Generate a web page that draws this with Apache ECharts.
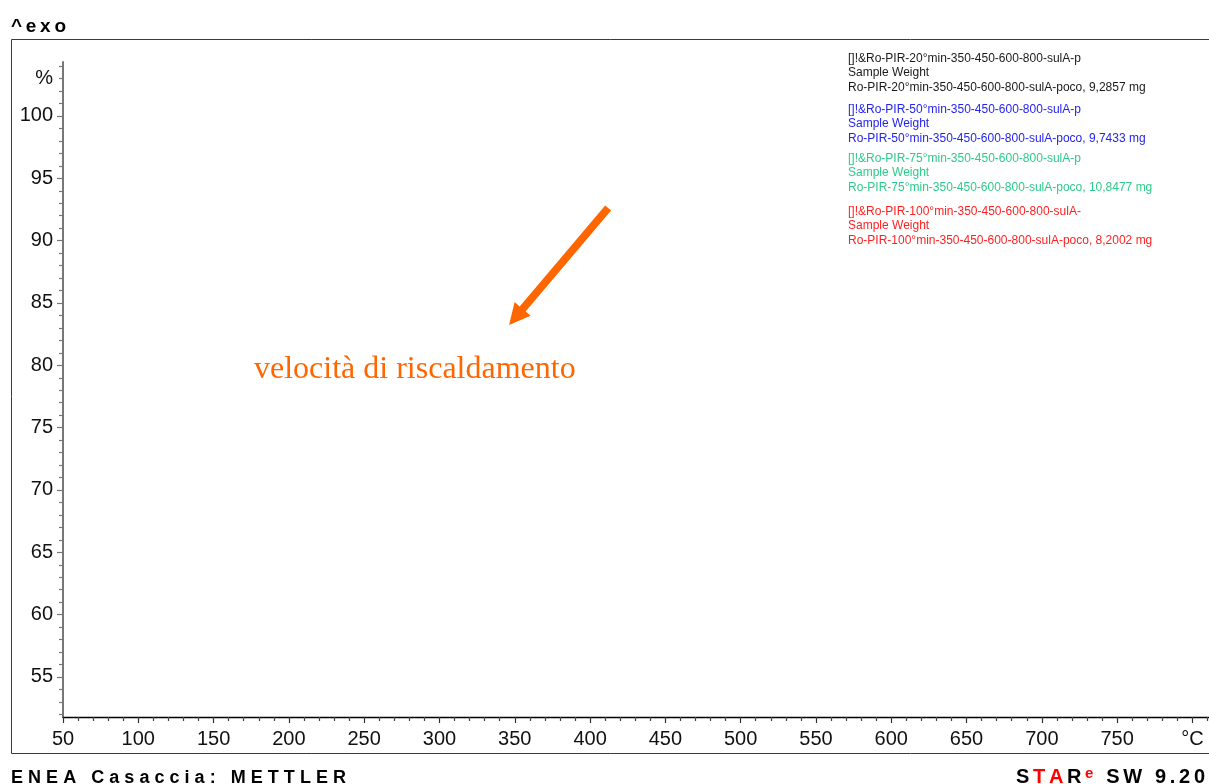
<!DOCTYPE html>
<html>
<head>
<meta charset="utf-8">
<title>TGA - velocità di riscaldamento</title>
<script src="https://cdn.jsdelivr.net/npm/echarts@6/dist/echarts.min.js"></script>
<style>
  html, body { margin: 0; padding: 0; background: #fff; }
  #chart { width: 1209px; height: 784px; }
</style>
</head>
<body>
<div id="chart"></div>
<script>
  // asse temperatura (°C)
  var xMajor = [50, 100, 150, 200, 250, 300, 350, 400, 450, 500, 550, 600, 650, 700, 750, 800];
  var xMinor = [];
  for (var t = 60; t <= 810; t += 10) { if (t % 50 !== 0) xMinor.push(t); }
  // asse peso (%)
  var yMajor = [55, 60, 65, 70, 75, 80, 85, 90, 95, 100];
  var yLabels = [55, 60, 65, 70, 75, 80, 85, 90, 95, 100, 103];
  var yMinor = [];
  for (var p = 52; p <= 104; p++) { if (p % 5 !== 0) yMinor.push(p); }

  // curve (nel riferimento non compaiono tracciati)
  var sampleRates = ['20°min', '50°min', '75°min', '100°min'];
  var sampleTitles = [
    '[]!&Ro-PIR-20°min-350-450-600-800-sulA-p',
    '[]!&Ro-PIR-50°min-350-450-600-800-sulA-p',
    '[]!&Ro-PIR-75°min-350-450-600-800-sulA-p',
    '[]!&Ro-PIR-100°min-350-450-600-800-sulA-'
  ];
  var sampleFiles = [
    'Ro-PIR-20°min-350-450-600-800-sulA-poco, 9,2857 mg',
    'Ro-PIR-50°min-350-450-600-800-sulA-poco, 9,7433 mg',
    'Ro-PIR-75°min-350-450-600-800-sulA-poco, 10,8477 mg',
    'Ro-PIR-100°min-350-450-600-800-sulA-poco, 8,2002 mg'
  ];
  var sampleColors = ['#1a1a1a', '#2424f0', '#2ecb8a', '#ff1f1f'];
  var sampleData = [[], [], [], []];
  var legendTop = [51, 102, 151, 204];

  // freccia annotazione (coordinate dati: coda -> punta)
  var arrowFrom = [412, 92.62];
  var arrowTo = [346.2, 83.24];

  var chart = echarts.init(document.getElementById('chart'));

  var labelFont = '"Liberation Sans", Arial, sans-serif';
  var measureCtx = document.createElement('canvas').getContext('2d');

  // scritte spaziate (stile STARe): lettere distribuite tra x0 e x1
  function fitText(runs, x0, x1, y) {
    var chars = [], sum = 0;
    runs.forEach(function (r) {
      var font = 'bold ' + r.size + 'px ' + labelFont;
      measureCtx.font = font;
      for (var i = 0; i < r.t.length; i++) {
        var w = measureCtx.measureText(r.t[i]).width;
        chars.push({ ch: r.t[i], font: font, w: w, color: r.color, dy: r.dy || 0 });
        sum += w;
      }
    });
    var gap = (x1 - x0 - sum) / (chars.length - 1);
    var cx = x0;
    return chars.map(function (c) {
      var el = {
        type: 'text', x: cx, y: y + c.dy, silent: true,
        style: { text: c.ch, font: c.font, fill: c.color, align: 'left', verticalAlign: 'bottom' }
      };
      cx += c.w + gap;
      return el;
    });
  }

  var graphics = [];
  graphics.push({
    type: 'rect', silent: true, z: -1,
    shape: { x: 11.5, y: 39.5, width: 1300, height: 714 },
    style: { fill: 'none', stroke: '#3a3a3a', lineWidth: 1 }
  });
  graphics = graphics.concat(
    fitText([{ t: '^exo', size: 19, color: '#000' }], 11, 66, 36),
    fitText([{ t: 'ENEA Casaccia: METTLER', size: 18, color: '#000' }], 11, 346, 787),
    fitText([
      { t: 'S', size: 20, color: '#000' },
      { t: 'TA', size: 20, color: '#ff0000' },
      { t: 'R', size: 20, color: '#000' },
      { t: 'e', size: 15, color: '#ff0000', dy: -6 },
      { t: ' SW 9.20', size: 20, color: '#000' }
    ], 1016, 1205, 787)
  );
  sampleTitles.forEach(function (name, i) {
    graphics.push({
      type: 'text', x: 848, y: legendTop[i], silent: true,
      style: {
        text: name + '\nSample Weight\n' + sampleFiles[i],
        font: '12px ' + labelFont, fill: sampleColors[i], lineHeight: 14.5,
        align: 'left', verticalAlign: 'top'
      }
    });
  });
  graphics.push({
    type: 'text', x: 254, y: 370, silent: true,
    style: {
      text: 'velocità di riscaldamento', font: '32px "Liberation Serif", "Times New Roman", serif',
      fill: '#ff6600', align: 'left', verticalAlign: 'middle'
    }
  });

  var series = sampleTitles.map(function (name, i) {
    return {
      name: sampleRates[i], type: 'line', data: sampleData[i], showSymbol: false,
      lineStyle: { color: sampleColors[i], width: 1.5 }
    };
  });

  chart.setOption({
    animation: false,
    backgroundColor: '#fff',
    grid: { left: 63, right: 0, top: 62, bottom: 67, containLabel: false },
    xAxis: [{
      type: 'value', min: 50, max: 811, position: 'bottom',
      axisLine: { show: true, onZero: false, lineStyle: { color: '#000', width: 1.3 } },
      axisTick: { show: true, customValues: xMajor, length: 6, lineStyle: { color: '#333', width: 1.2 } },
      axisLabel: {
        customValues: xMajor, margin: 12, color: '#111', fontSize: 20, fontFamily: labelFont,
        formatter: function (v) { return v === 800 ? '°C' : String(v); }
      },
      splitLine: { show: false }
    }, {
      type: 'value', min: 50, max: 811, position: 'bottom',
      axisLine: { show: false, onZero: false },
      axisTick: { show: true, customValues: xMinor, length: 4, lineStyle: { color: '#444', width: 1.2 } },
      axisLabel: { show: false },
      splitLine: { show: false }
    }],
    yAxis: [{
      type: 'value', min: 51.79, max: 104.33, position: 'left',
      axisLine: { show: true, onZero: false, lineStyle: { color: '#777', width: 2 } },
      axisTick: { show: true, customValues: yMajor, length: 6, lineStyle: { color: '#777', width: 1.2 } },
      axisLabel: {
        customValues: yLabels, margin: 10, color: '#111', fontSize: 20, fontFamily: labelFont,
        formatter: function (v) { return v === 103 ? '%' : String(v); }
      },
      splitLine: { show: false }
    }, {
      type: 'value', min: 51.79, max: 104.33, position: 'left',
      axisLine: { show: false, onZero: false },
      axisTick: { show: true, customValues: yMinor, length: 4, lineStyle: { color: '#777', width: 1.2 } },
      axisLabel: { show: false },
      splitLine: { show: false }
    }],
    series: series,
    graphic: graphics
  });

  // freccia: posizionata dalle coordinate dati
  var a = chart.convertToPixel({ xAxisIndex: 0, yAxisIndex: 0 }, arrowFrom);
  var b = chart.convertToPixel({ xAxisIndex: 0, yAxisIndex: 0 }, arrowTo);
  var dx = b[0] - a[0], dy = b[1] - a[1], len = Math.sqrt(dx * dx + dy * dy);
  var ux = dx / len, uy = dy / len, nx = -uy, ny = ux;
  var hw = 3.9, headLen = 21, headHalf = 10.5;
  var bx = b[0] - ux * headLen, by = b[1] - uy * headLen;
  graphics.push({
    type: 'polygon', silent: true,
    shape: {
      points: [
        [a[0] + nx * hw, a[1] + ny * hw],
        [bx + nx * hw, by + ny * hw],
        [bx + nx * headHalf, by + ny * headHalf],
        [b[0], b[1]],
        [bx - nx * headHalf, by - ny * headHalf],
        [bx - nx * hw, by - ny * hw],
        [a[0] - nx * hw, a[1] - ny * hw]
      ]
    },
    style: { fill: '#ff6600' }
  });
  chart.setOption({ graphic: graphics });
</script>
</body>
</html>
